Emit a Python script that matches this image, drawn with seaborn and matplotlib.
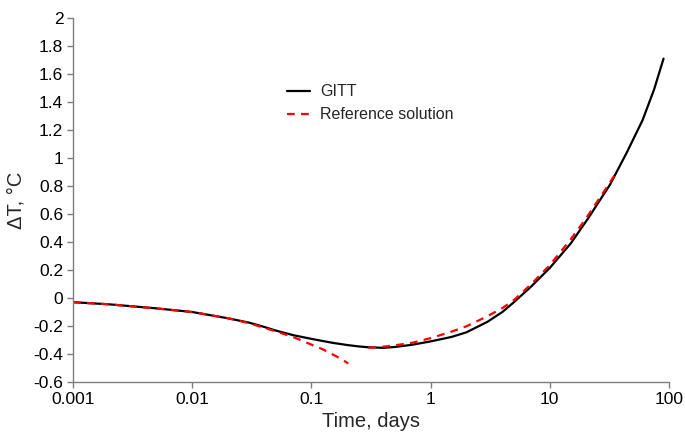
import matplotlib
matplotlib.use("Agg")
import matplotlib.pyplot as plt
import seaborn as sns
import pandas as pd
from matplotlib.ticker import FixedLocator, FuncFormatter, NullLocator

# GITT solution
gitt_t = [0.001, 0.002, 0.005, 0.01, 0.02, 0.03, 0.04, 0.05, 0.07, 0.1, 0.15, 0.2, 0.25,
          0.3, 0.4, 0.5, 0.7, 1, 1.5, 2, 3, 4, 5, 7, 10, 15, 21, 32, 44, 60, 75, 90]
gitt_y = [-0.03, -0.045, -0.074, -0.10, -0.145, -0.176, -0.206, -0.232, -0.265, -0.292,
          -0.32, -0.336, -0.346, -0.352, -0.356, -0.35, -0.334, -0.31, -0.278, -0.245,
          -0.17, -0.10, -0.03, 0.083, 0.215, 0.39, 0.57, 0.81, 1.035, 1.27, 1.49, 1.71]

# Reference solution, short-time branch
ref1_t = [0.001, 0.002, 0.005, 0.01, 0.02, 0.03, 0.05, 0.07, 0.1, 0.125, 0.15, 0.175, 0.204]
ref1_y = [-0.03, -0.045, -0.075, -0.10, -0.145, -0.18, -0.238, -0.278, -0.333, -0.367,
          -0.402, -0.432, -0.468]

# Reference solution, long-time branch
ref2_t = [0.3, 0.4, 0.5, 0.7, 1, 1.5, 2, 3, 4, 5, 7, 10, 15, 20, 30, 37]
ref2_y = [-0.356, -0.348, -0.338, -0.32, -0.287, -0.24, -0.202, -0.13, -0.072, -0.015,
          0.10, 0.235, 0.42, 0.565, 0.79, 0.91]

x_ticks = [0.001, 0.01, 0.1, 1, 10, 100]
y_ticks = [-0.6, -0.4, -0.2, 0, 0.2, 0.4, 0.6, 0.8, 1, 1.2, 1.4, 1.6, 1.8, 2]

sns.set_style("white")
plt.rcParams['font.family'] = ['Liberation Sans', 'DejaVu Sans']

fig = plt.figure(figsize=(6.85, 4.38), dpi=100)
ax = fig.add_axes([73/685, 56/438, 596/685, 364/438])

df_g = pd.DataFrame({"t": gitt_t, "y": gitt_y})
df_r1 = pd.DataFrame({"t": ref1_t, "y": ref1_y})
df_r2 = pd.DataFrame({"t": ref2_t, "y": ref2_y})

sns.lineplot(data=df_g, x="t", y="y", ax=ax, color="black", lw=1.6,
             label="GITT", estimator=None, sort=False)
sns.lineplot(data=df_r1, x="t", y="y", ax=ax, color="#ff0000", lw=1.6,
             label="Reference solution", estimator=None, sort=False)
sns.lineplot(data=df_r2, x="t", y="y", ax=ax, color="#ff0000", lw=1.6,
             label="_nolegend_", estimator=None, sort=False)
for ln in ax.get_lines()[1:3]:
    ln.set_linestyle((0, (3.5, 2.8)))

ax.set_xscale("log")
ax.set_xlim(0.001, 100)
ax.set_ylim(-0.6, 2)
ax.xaxis.set_major_locator(FixedLocator(x_ticks))
ax.xaxis.set_minor_locator(NullLocator())
ax.xaxis.set_major_formatter(FuncFormatter(lambda v, p: "%g" % v))
ax.yaxis.set_major_locator(FixedLocator(y_ticks))
ax.yaxis.set_major_formatter(FuncFormatter(lambda v, p: "%g" % round(v, 1)))

for s in ["top", "right"]:
    ax.spines[s].set_visible(False)
for s in ["left", "bottom"]:
    ax.spines[s].set_color("#7f7f7f")
    ax.spines[s].set_linewidth(1.0)

ax.tick_params(axis="both", which="major", direction="out", length=4, width=1.0,
               color="#7f7f7f", labelsize=12.5, labelcolor="black", pad=3)
ax.tick_params(axis="x", bottom=True)
ax.tick_params(axis="y", left=True)

ax.set_xlabel("Time, days", fontsize=14.5, labelpad=4)
ax.set_ylabel("ΔT, °C", fontsize=14.5, labelpad=6)

leg = ax.legend(loc="upper left", bbox_to_anchor=(0.335, 0.857), frameon=False,
                fontsize=11.5, handlelength=1.45, handletextpad=0.6, labelspacing=0.5)

fig.savefig("out.png", dpi=100)
